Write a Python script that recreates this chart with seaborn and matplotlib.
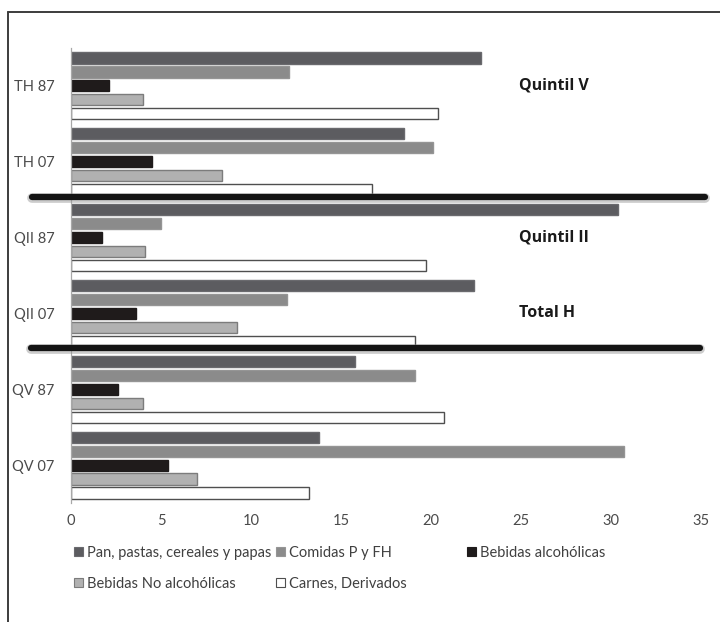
import numpy as np
import pandas as pd
import matplotlib
matplotlib.use("Agg")
import matplotlib.pyplot as plt
import matplotlib.transforms as mtransforms
from matplotlib.lines import Line2D
from matplotlib.patches import Patch
import seaborn as sns

# Categories (top to bottom) and food groups
grupos = ["TH 87", "TH 07", "QII 87", "QII 07", "QV 87", "QV 07"]
rubros = ["Pan, pastas, cereales y papas", "Comidas P y FH",
          "Bebidas alcohólicas", "Bebidas No alcohólicas", "Carnes, Derivados"]

# Share of spending (%) per food group
pan = [22.8, 18.5, 30.4, 22.4, 15.8, 13.8]
comidas = [12.1, 20.1, 5.0, 12.0, 19.1, 30.7]
alcohol = [2.1, 4.5, 1.7, 3.6, 2.6, 5.4]
no_alcohol = [4.0, 8.4, 4.1, 9.2, 4.0, 7.0]
carnes = [20.4, 16.7, 19.7, 19.1, 20.7, 13.2]

x_ticks = [0, 5, 10, 15, 20, 25, 30, 35]

# Block labels and the category row they sit on
bloques = ["Quintil V", "Quintil II", "Total H"]
bloque_fila = [0, 2, 3]

series = [pan, comidas, alcohol, no_alcohol, carnes]
df = pd.DataFrame({
    "grupo": [g for s in series for g in grupos],
    "rubro": [r for r, s in zip(rubros, series) for _ in grupos],
    "valor": [v for s in series for v in s],
})

fills = ["#5c5c60", "#8b8b8b", "#1f1b1b", "#b1b1b1", "#ffffff"]
edges = ["#6a6a6e", "#959595", "#1f1b1b", "#7c7c7c", "#4f4f4f"]

sns.set_theme(style="white")
plt.rcParams["font.family"] = ["Lato", "DejaVu Sans"]

fig = plt.figure(figsize=(7.2, 6.22), dpi=100)
ax = fig.add_axes([71 / 720, 1 - 503 / 622, 630 / 720, 455 / 622])

sns.barplot(data=df, y="grupo", x="valor", hue="rubro", order=grupos,
            hue_order=rubros, palette=dict(zip(rubros, fills)), orient="h",
            width=0.92, saturation=1, legend=False, ax=ax)

# thin the bars so a small gap shows between neighbours
for cont, ec in zip(ax.containers, edges):
    for bar in cont:
        h = bar.get_height()
        y = bar.get_y()
        nh = h * 0.8
        bar.set_y(y + (h - nh) / 2)
        bar.set_height(nh)
        bar.set_edgecolor(ec)
        bar.set_linewidth(1.0)

ax.set_xlim(0, 35)
ax.set_ylim(5.5, -0.5)
ax.set_xticks(x_ticks)
ax.set_xticklabels([str(t) for t in x_ticks])
ax.set_xlabel("")
ax.set_ylabel("")
ax.tick_params(axis="both", length=0, labelsize=10.5, colors="#4a4a4a")
ax.tick_params(axis="x", pad=8)
ax.tick_params(axis="y", pad=12)
for side in ["top", "right", "bottom"]:
    ax.spines[side].set_visible(False)
ax.spines["left"].set_color("#a8a8a8")
ax.spines["left"].set_linewidth(0.9)

# thick separators between the blocks
trans = mtransforms.blended_transform_factory(ax.transAxes, ax.transData)
for (x0, x1, yv) in [(-0.062, 1.006, 1.46), (-0.0635, 0.998, 3.45)]:
    ax.plot([x0, x1], [yv + 0.02, yv + 0.02], transform=trans, color="#9a9a9a",
            lw=7, alpha=0.5, solid_capstyle="round", clip_on=False, zorder=5)
    ax.plot([x0, x1], [yv, yv], transform=trans, color="#141414",
            lw=4.5, solid_capstyle="round", clip_on=False, zorder=6)

for txt, fila in zip(bloques, bloque_fila):
    ax.text(24.9, fila, txt, ha="left", va="center", fontsize=11.5,
            fontweight="bold", family=["Open Sans", "DejaVu Sans"],
            color="#1a1a1a")

# legend laid out in three columns, two rows
def handle(i):
    return Patch(facecolor=fills[i], edgecolor=edges[i], linewidth=0.8)

columnas = [([0, 3], 74), ([1, 4], 276), ([2], 467)]
for idx, xpx in columnas:
    leg = fig.legend(handles=[handle(i) for i in idx],
                     labels=[rubros[i] for i in idx],
                     loc="upper left", bbox_to_anchor=(xpx / 720, 1 - 546 / 622),
                     frameon=False, borderpad=0, borderaxespad=0,
                     handlelength=0.6, handleheight=0.6, handletextpad=0.3,
                     labelspacing=1.15, fontsize=10.5)
    for t in leg.get_texts():
        t.set_color("#404040")

# outer frame (left and top edges)
fig.add_artist(Line2D([8 / 720, 8 / 720], [0, 1 - 12 / 622], transform=fig.transFigure,
                      color="#3c3c3c", lw=1.4))
fig.add_artist(Line2D([8 / 720, 1], [1 - 12 / 622, 1 - 12 / 622], transform=fig.transFigure,
                      color="#3c3c3c", lw=1.4))

fig.savefig("out.png", dpi=100)
